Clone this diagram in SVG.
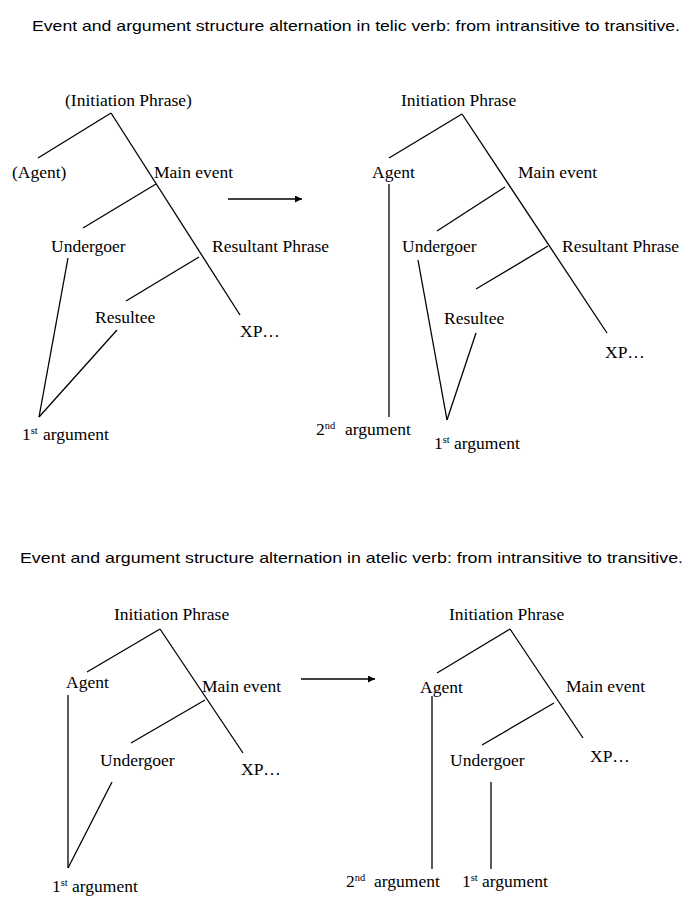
<svg xmlns="http://www.w3.org/2000/svg" width="700" height="920" viewBox="0 0 700 920">
<style>
.t{font-family:"Liberation Serif","Times New Roman",serif;font-size:17.5px;fill:#000}
.h{font-family:"Liberation Sans",Arial,sans-serif;font-size:15px;fill:#000}
.sup{font-size:10.5px}
.c line{stroke:#000;stroke-width:1.3;fill:none}
</style>
<defs>
<marker id="ah" viewBox="0 0 10 10" refX="10" refY="5" markerWidth="7" markerHeight="7" markerUnits="userSpaceOnUse" orient="auto">
<path d="M0,0 L10,5 L0,10 z" fill="#000"/>
</marker>
</defs>
<rect width="700" height="920" fill="#fff"/>

<text class="h" x="32" y="31" textLength="648" lengthAdjust="spacingAndGlyphs">Event and argument structure alternation in telic verb: from intransitive to transitive.</text>
<text class="h" x="20" y="563" textLength="663" lengthAdjust="spacingAndGlyphs">Event and argument structure alternation in atelic verb: from intransitive to transitive.</text>

<g class="c" id="connectors">
<!-- Tree 1 -->
<line x1="111" y1="113" x2="38" y2="158"/>
<line x1="111" y1="113" x2="240" y2="315"/>
<line x1="156" y1="184" x2="83" y2="228"/>
<line x1="199" y1="257" x2="126" y2="301"/>
<line x1="68" y1="258" x2="39" y2="417"/>
<line x1="117" y1="330" x2="39" y2="417"/>
<line x1="228" y1="199" x2="302" y2="199" marker-end="url(#ah)"/>
<!-- Tree 2 -->
<line x1="462" y1="114" x2="389" y2="158"/>
<line x1="462" y1="114" x2="607" y2="333"/>
<line x1="389" y1="184" x2="389" y2="417"/>
<line x1="505" y1="187" x2="437" y2="231"/>
<line x1="548" y1="246" x2="476" y2="289"/>
<line x1="418" y1="260" x2="447" y2="420"/>
<line x1="476" y1="333" x2="447" y2="420"/>
<!-- Tree 3 -->
<line x1="160" y1="629" x2="87" y2="672"/>
<line x1="160" y1="629" x2="243" y2="753"/>
<line x1="205" y1="700" x2="131" y2="743"/>
<line x1="68" y1="695" x2="68" y2="868"/>
<line x1="112" y1="782" x2="68" y2="868"/>
<line x1="301" y1="679" x2="375" y2="679" marker-end="url(#ah)"/>
<!-- Tree 4 -->
<line x1="510" y1="629" x2="437" y2="673"/>
<line x1="510" y1="629" x2="583" y2="738"/>
<line x1="554" y1="703" x2="482" y2="745"/>
<line x1="432" y1="696" x2="432" y2="869"/>
<line x1="491" y1="782" x2="491" y2="869"/>
</g>

<!-- Tree 1 nodes -->
<g id="t1-initiation"><text class="t" x="65" y="106">(Initiation Phrase)</text></g>
<g id="t1-agent"><text class="t" x="12" y="178">(Agent)</text></g>
<g id="t1-main"><text class="t" x="154" y="178">Main event</text></g>
<g id="t1-undergoer"><text class="t" x="51" y="252">Undergoer</text></g>
<g id="t1-resultant"><text class="t" x="212" y="252">Resultant Phrase</text></g>
<g id="t1-resultee"><text class="t" x="95" y="323">Resultee</text></g>
<g id="t1-xp"><text class="t" x="240" y="337">XP…</text></g>
<g id="t1-arg1"><text class="t" x="22" y="440">1<tspan class="sup" dy="-6">st</tspan><tspan x="43" dy="6">argument</tspan></text></g>

<!-- Tree 2 nodes -->
<g id="t2-initiation"><text class="t" x="401" y="106">Initiation Phrase</text></g>
<g id="t2-agent"><text class="t" x="372" y="178">Agent</text></g>
<g id="t2-main"><text class="t" x="518" y="178">Main event</text></g>
<g id="t2-undergoer"><text class="t" x="402" y="252">Undergoer</text></g>
<g id="t2-resultant"><text class="t" x="562" y="252">Resultant Phrase</text></g>
<g id="t2-resultee"><text class="t" x="444" y="324">Resultee</text></g>
<g id="t2-xp"><text class="t" x="605" y="358">XP…</text></g>
<g id="t2-arg2"><text class="t" x="316" y="435">2<tspan class="sup" dy="-6">nd</tspan><tspan x="345" dy="6">argument</tspan></text></g>
<g id="t2-arg1"><text class="t" x="434" y="449">1<tspan class="sup" dy="-6">st</tspan><tspan x="454" dy="6">argument</tspan></text></g>

<!-- Tree 3 nodes -->
<g id="t3-initiation"><text class="t" x="114" y="620">Initiation Phrase</text></g>
<g id="t3-agent"><text class="t" x="66" y="688">Agent</text></g>
<g id="t3-main"><text class="t" x="202" y="692">Main event</text></g>
<g id="t3-undergoer"><text class="t" x="100" y="766">Undergoer</text></g>
<g id="t3-xp"><text class="t" x="241" y="775">XP…</text></g>
<g id="t3-arg1"><text class="t" x="52" y="892">1<tspan class="sup" dy="-6">st</tspan><tspan x="72" dy="6">argument</tspan></text></g>

<!-- Tree 4 nodes -->
<g id="t4-initiation"><text class="t" x="449" y="620">Initiation Phrase</text></g>
<g id="t4-agent"><text class="t" x="420" y="693">Agent</text></g>
<g id="t4-main"><text class="t" x="566" y="692">Main event</text></g>
<g id="t4-undergoer"><text class="t" x="450" y="766">Undergoer</text></g>
<g id="t4-xp"><text class="t" x="590" y="762">XP…</text></g>
<g id="t4-arg2"><text class="t" x="346" y="887">2<tspan class="sup" dy="-6">nd</tspan><tspan x="374" dy="6">argument</tspan></text></g>
<g id="t4-arg1"><text class="t" x="462" y="887">1<tspan class="sup" dy="-6">st</tspan><tspan x="482" dy="6">argument</tspan></text></g>
</svg>
